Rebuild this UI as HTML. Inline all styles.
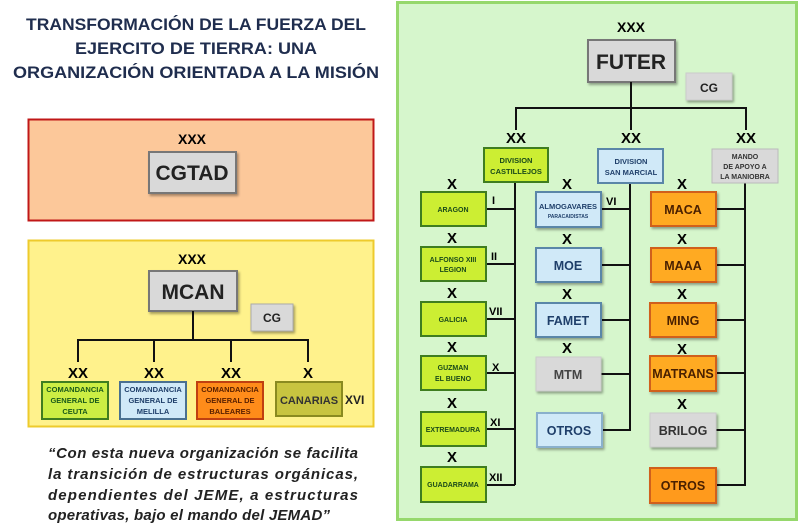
<!DOCTYPE html>
<html><head><meta charset="utf-8"><style>
html,body{margin:0;padding:0;background:#fff;width:800px;height:524px;overflow:hidden}
svg text{font-family:"Liberation Sans",sans-serif;font-weight:bold}
</style></head><body>
<svg width="800" height="524" viewBox="0 0 800 524" xmlns="http://www.w3.org/2000/svg">
<defs><filter id="sh" x="-10%" y="-10%" width="130%" height="140%"><feDropShadow dx="1.5" dy="2" stdDeviation="1.2" flood-color="#000" flood-opacity="0.35"/></filter></defs>
<g fill="#1f2d4e" font-size="17" text-anchor="middle">
<text x="196" y="30" textLength="340" lengthAdjust="spacingAndGlyphs">TRANSFORMACIÓN DE LA FUERZA DEL</text>
<text x="196" y="54" textLength="242" lengthAdjust="spacingAndGlyphs">EJERCITO DE TIERRA: UNA</text>
<text x="196" y="78" textLength="366" lengthAdjust="spacingAndGlyphs">ORGANIZACIÓN ORIENTADA A LA MISIÓN</text>
</g>
<rect x="28.5" y="119.5" width="345" height="101" fill="#fcc89a" stroke="#c01818" stroke-width="2"/>
<text x="192" y="144" font-size="14" text-anchor="middle">XXX</text>
<rect x="149" y="152" width="87" height="41" fill="#d9d9d9" stroke="#777" stroke-width="2" filter="url(#sh)"/>
<text x="192" y="180" font-size="21" text-anchor="middle" fill="#222">CGTAD</text>
<rect x="28.5" y="240.5" width="345" height="186" fill="#fff28c" stroke="#eecb2c" stroke-width="2"/>
<text x="192" y="264" font-size="14" text-anchor="middle">XXX</text>
<rect x="149" y="271" width="88" height="40" fill="#d9d9d9" stroke="#777" stroke-width="2" filter="url(#sh)"/>
<text x="193" y="299" font-size="21" text-anchor="middle" fill="#222">MCAN</text>
<rect x="251" y="304" width="42" height="27" fill="#d9d9d9" stroke="#aaa" stroke-width="1" filter="url(#sh)"/>
<text x="272" y="322" font-size="12" text-anchor="middle" fill="#222">CG</text>
<g stroke="#111" stroke-width="2" fill="none">
<path d="M193 311V340M78 340H309M78 339V362M154 339V362M231 339V362M308 339V362"/>
</g>
<g font-size="15" text-anchor="middle">
<text x="78" y="378">XX</text><text x="154" y="378">XX</text><text x="231" y="378">XX</text><text x="308" y="378">X</text>
</g>
<rect x="42" y="382" width="66" height="37" fill="#ccee44" stroke="#3f7d20" stroke-width="2"/>
<rect x="120" y="382" width="66" height="37" fill="#d0e9f8" stroke="#4a7090" stroke-width="2"/>
<rect x="197" y="382" width="66" height="37" fill="#ff8c1a" stroke="#c04010" stroke-width="2"/>
<rect x="276" y="382" width="66" height="34" fill="#c8c440" stroke="#8a8a20" stroke-width="2"/>
<g font-size="7.5" text-anchor="middle">
<text x="75" y="392" fill="#1a5a1a">COMANDANCIA</text><text x="75" y="403" fill="#1a5a1a">GENERAL DE</text><text x="75" y="414" fill="#1a5a1a">CEUTA</text>
<text x="153" y="392" fill="#1f3f6a">COMANDANCIA</text><text x="153" y="403" fill="#1f3f6a">GENERAL DE</text><text x="153" y="414" fill="#1f3f6a">MELILLA</text>
<text x="230" y="392" fill="#5a2000">COMANDANCIA</text><text x="230" y="403" fill="#5a2000">GENERAL DE</text><text x="230" y="414" fill="#5a2000">BALEARES</text>
</g>
<text x="309" y="404" font-size="11" text-anchor="middle" fill="#333">CANARIAS</text>
<text x="345" y="404" font-size="12" fill="#222">XVI</text>
<g font-size="15" font-style="italic" fill="#222">
<text x="48" y="458" textLength="310" lengthAdjust="spacing">“Con esta nueva organización se facilita</text>
<text x="48" y="479" textLength="310" lengthAdjust="spacing">la transición de estructuras orgánicas,</text>
<text x="48" y="500" textLength="310" lengthAdjust="spacing">dependientes del JEME, a estructuras</text>
<text x="48" y="520" textLength="282" lengthAdjust="spacing">operativas, bajo el mando del JEMAD”</text>
</g>
<rect x="397.5" y="2.5" width="399" height="517" fill="#d6f6cc" stroke="#96d86c" stroke-width="3"/>
<text x="631" y="32" font-size="14" text-anchor="middle">XXX</text>
<rect x="588" y="40" width="87" height="42" fill="#d9d9d9" stroke="#777" stroke-width="2" filter="url(#sh)"/>
<text x="631" y="69" font-size="21" text-anchor="middle" fill="#222">FUTER</text>
<rect x="686" y="73" width="46" height="27" fill="#d9d9d9" stroke="#ccc" stroke-width="1" filter="url(#sh)"/>
<text x="709" y="92" font-size="12" text-anchor="middle" fill="#222">CG</text>
<g stroke="#111" stroke-width="2" fill="none">
<path d="M631 82V108M516 108H747M516 107V130M631 107V130M746 107V130"/>
<path d="M515 182V485M486 209H515M486 264H515M486 319H515M486 373H515M486 429H515M486 485H515"/>
<path d="M630 183V431M601 209H630M601 265H630M601 320H630M601 374H630M601 430H630"/>
<path d="M745 183V486M716 209H745M716 265H745M716 320H745M716 373H745M716 430H745M716 485H745"/>
</g>
<g font-size="15" text-anchor="middle">
<text x="516" y="143">XX</text><text x="631" y="143">XX</text><text x="746" y="143">XX</text>
</g>
<rect x="484" y="148" width="64" height="34" fill="#ccee33" stroke="#3f7d20" stroke-width="2"/>
<text x="516" y="163" font-size="7.5" text-anchor="middle" fill="#1a4a1a">DIVISION</text>
<text x="516" y="174" font-size="7.5" text-anchor="middle" fill="#1a4a1a">CASTILLEJOS</text>
<rect x="598" y="149" width="65" height="34" fill="#d0e9f8" stroke="#5a86a8" stroke-width="2"/>
<text x="631" y="164" font-size="7.5" text-anchor="middle" fill="#1f3f6a">DIVISION</text>
<text x="631" y="175" font-size="7.5" text-anchor="middle" fill="#1f3f6a">SAN MARCIAL</text>
<rect x="712" y="149" width="66" height="34" fill="#d9d9d9" stroke="#bbb" stroke-width="1"/>
<text x="745" y="159" font-size="7" text-anchor="middle" fill="#333">MANDO</text>
<text x="745" y="169" font-size="7" text-anchor="middle" fill="#333">DE APOYO  A</text>
<text x="745" y="179" font-size="7" text-anchor="middle" fill="#333">LA MANIOBRA</text>
<g fill="#ccee33" stroke="#3f7d20" stroke-width="2">
<rect x="421" y="192" width="65" height="34"/><rect x="421" y="247" width="65" height="34"/>
<rect x="421" y="302" width="65" height="34"/><rect x="421" y="356" width="65" height="34"/>
<rect x="421" y="412" width="65" height="34"/><rect x="421" y="467" width="65" height="35"/>
</g>
<g font-size="7" text-anchor="middle" fill="#1a4a1a">
<text x="453" y="212">ARAGON</text>
<text x="453" y="262">ALFONSO XIII</text><text x="453" y="272">LEGION</text>
<text x="453" y="322">GALICIA</text>
<text x="453" y="370">GUZMAN</text><text x="453" y="381">EL BUENO</text>
<text x="453" y="432">EXTREMADURA</text>
<text x="453" y="487">GUADARRAMA</text>
</g>
<g font-size="15" text-anchor="middle">
<text x="452" y="189">X</text><text x="452" y="243">X</text><text x="452" y="298">X</text><text x="452" y="352">X</text><text x="452" y="408">X</text><text x="452" y="462">X</text>
<text x="567" y="189">X</text><text x="567" y="244">X</text><text x="567" y="299">X</text><text x="567" y="353">X</text>
<text x="682" y="189">X</text><text x="682" y="244">X</text><text x="682" y="299">X</text><text x="682" y="354">X</text><text x="682" y="409">X</text>
</g>
<g font-size="11">
<text x="492" y="204">I</text><text x="491" y="260">II</text><text x="489" y="315">VII</text><text x="492" y="371">X</text><text x="490" y="426">XI</text><text x="489" y="481">XII</text>
<text x="606" y="205">VI</text>
</g>
<g stroke-width="2">
<rect x="536" y="192" width="65" height="35" fill="#d0e9f8" stroke="#5a86a8" filter="url(#sh)"/>
<rect x="536" y="248" width="65" height="34" fill="#d0e9f8" stroke="#5a86a8" filter="url(#sh)"/>
<rect x="536" y="303" width="65" height="34" fill="#d0e9f8" stroke="#5a86a8" filter="url(#sh)"/>
<rect x="536" y="357" width="65" height="34" fill="#d9d9d9" stroke="#ccc" stroke-width="1" filter="url(#sh)"/>
<rect x="537" y="413" width="65" height="34" fill="#d0e9f8" stroke="#8ab0cc" filter="url(#sh)"/>
</g>
<text x="568" y="209" font-size="7.5" text-anchor="middle" fill="#1f3f6a">ALMOGAVARES</text>
<text x="568" y="218" font-size="5" text-anchor="middle" fill="#1f3f6a">PARACAIDISTAS</text>
<g font-size="12.5" text-anchor="middle">
<text x="568" y="270" fill="#1f3f6a">MOE</text>
<text x="568" y="325" fill="#1f3f6a">FAMET</text>
<text x="568" y="379" fill="#444">MTM</text>
<text x="569" y="435" fill="#1f3f6a">OTROS</text>
</g>
<g stroke-width="2" stroke="#d0601a" fill="#ffaa22">
<rect x="651" y="192" width="65" height="34" filter="url(#sh)"/>
<rect x="651" y="248" width="65" height="34" filter="url(#sh)"/>
<rect x="650" y="303" width="66" height="34" filter="url(#sh)"/>
<rect x="650" y="356" width="66" height="35" filter="url(#sh)"/>
<rect x="650" y="468" width="66" height="35" fill="#ff9a1a" filter="url(#sh)"/>
</g>
<rect x="650" y="413" width="66" height="34" fill="#d9d9d9" stroke="#ccc" stroke-width="1" filter="url(#sh)"/>
<g font-size="12.5" text-anchor="middle" fill="#4a2000">
<text x="683" y="214">MACA</text>
<text x="683" y="270">MAAA</text>
<text x="683" y="325">MING</text>
<text x="683" y="378">MATRANS</text>
<text x="683" y="435" fill="#333">BRILOG</text>
<text x="683" y="490">OTROS</text>
</g>
</svg>
</body></html>
